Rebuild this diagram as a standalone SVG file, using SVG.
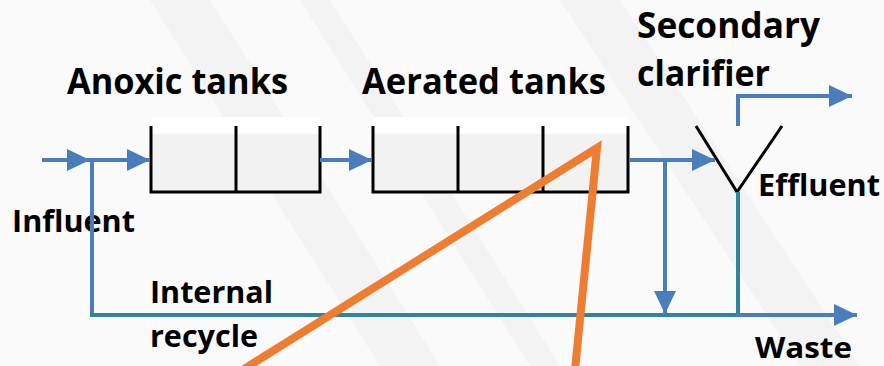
<svg xmlns="http://www.w3.org/2000/svg" width="884" height="366" viewBox="0 0 884 366">
<defs>
<style>
.tank{fill:none;stroke:#000;stroke-width:3;stroke-linejoin:miter}
.blue{fill:none;stroke:#4a7ebb;stroke-width:4}
.teal{fill:none;stroke:#31849b;stroke-width:4}
.orange{fill:none;stroke:#ed7d31;stroke-width:8;stroke-linecap:butt;stroke-linejoin:miter}
.lbl{font-family:"Open Sans",Lato,"Liberation Sans",sans-serif;font-weight:bold;fill:#000}
</style>
<marker id="ah" markerUnits="userSpaceOnUse" markerWidth="24" markerHeight="24" refX="23" refY="11" orient="auto">
<path d="M0,0 L23,11 L0,22 z" fill="#4a7ebb"/>
</marker>
</defs>
<rect width="884" height="366" fill="#fafafa"/>
<g fill="#f3f3f3">
<polygon points="150,0 210,0 440,366 380,366"/>
<polygon points="300,0 330,0 560,366 530,366"/>
<polygon points="560,0 620,0 860,366 800,366"/>
</g>
<rect x="151" y="134" width="169" height="58" fill="#f2f2f2"/>
<rect x="373" y="134" width="255" height="58" fill="#f2f2f2"/>
<rect x="151" y="117" width="169" height="17" fill="#fff"/>
<rect x="373" y="117" width="255" height="17" fill="#fff"/>

<g id="anoxic-tanks">
<path class="tank" d="M151,126 V192 H320 V126 M236,126 V192"/>
<text class="lbl" x="67" y="94" font-size="35" textLength="221" lengthAdjust="spacingAndGlyphs">Anoxic tanks</text>
</g>
<g id="aerated-tanks">
<path class="tank" d="M373,126 V192 H628 V126 M458,126 V192 M543,126 V192"/>
<text class="lbl" x="362" y="94" font-size="35" textLength="244" lengthAdjust="spacingAndGlyphs">Aerated tanks</text>
</g>
<g id="secondary-clarifier">
<path class="tank" d="M696,126 L737,192 L782,126" stroke-width="2.5"/>
<text class="lbl" x="637" y="38" font-size="35" textLength="183" lengthAdjust="spacingAndGlyphs">Secondary</text>
<text class="lbl" x="637" y="86" font-size="35" textLength="133" lengthAdjust="spacingAndGlyphs">clarifier</text>
</g>
<g id="influent">
<text class="lbl" x="12" y="232" font-size="30" textLength="123" lengthAdjust="spacingAndGlyphs">Influent</text>
</g>
<g id="effluent">
<text class="lbl" x="758" y="196" font-size="30" textLength="122" lengthAdjust="spacingAndGlyphs">Effluent</text>
</g>
<g id="internal-recycle">
<text class="lbl" x="150" y="303" font-size="30" textLength="123" lengthAdjust="spacingAndGlyphs">Internal</text>
<text class="lbl" x="150" y="347" font-size="30" textLength="108" lengthAdjust="spacingAndGlyphs">recycle</text>
</g>
<g id="waste">
<text class="lbl" x="755" y="358" font-size="28" textLength="97" lengthAdjust="spacingAndGlyphs">Waste</text>
</g>

<g id="connectors">
<line class="blue" x1="42" y1="160" x2="90" y2="160" marker-end="url(#ah)"/>
<line class="blue" x1="90" y1="160" x2="150" y2="160" marker-end="url(#ah)"/>
<line class="blue" x1="320" y1="160" x2="372" y2="160" marker-end="url(#ah)"/>
<line class="blue" x1="629" y1="160" x2="715" y2="160" marker-end="url(#ah)"/>
<path class="blue" d="M92,160 V315"/>
<path class="teal" d="M90,315 H738"/>
<line class="blue" x1="665" y1="160" x2="665" y2="314" marker-end="url(#ah)"/>
<path class="teal" d="M738,192 V315"/>
<line class="blue" x1="736" y1="315" x2="857" y2="315" marker-end="url(#ah)"/>
<path class="blue" d="M738,126 V96 H852" marker-end="url(#ah)"/>
</g>
<g id="annotation">
<path class="orange" d="M225,381 L597,148 L574,380"/>
</g>
</svg>
